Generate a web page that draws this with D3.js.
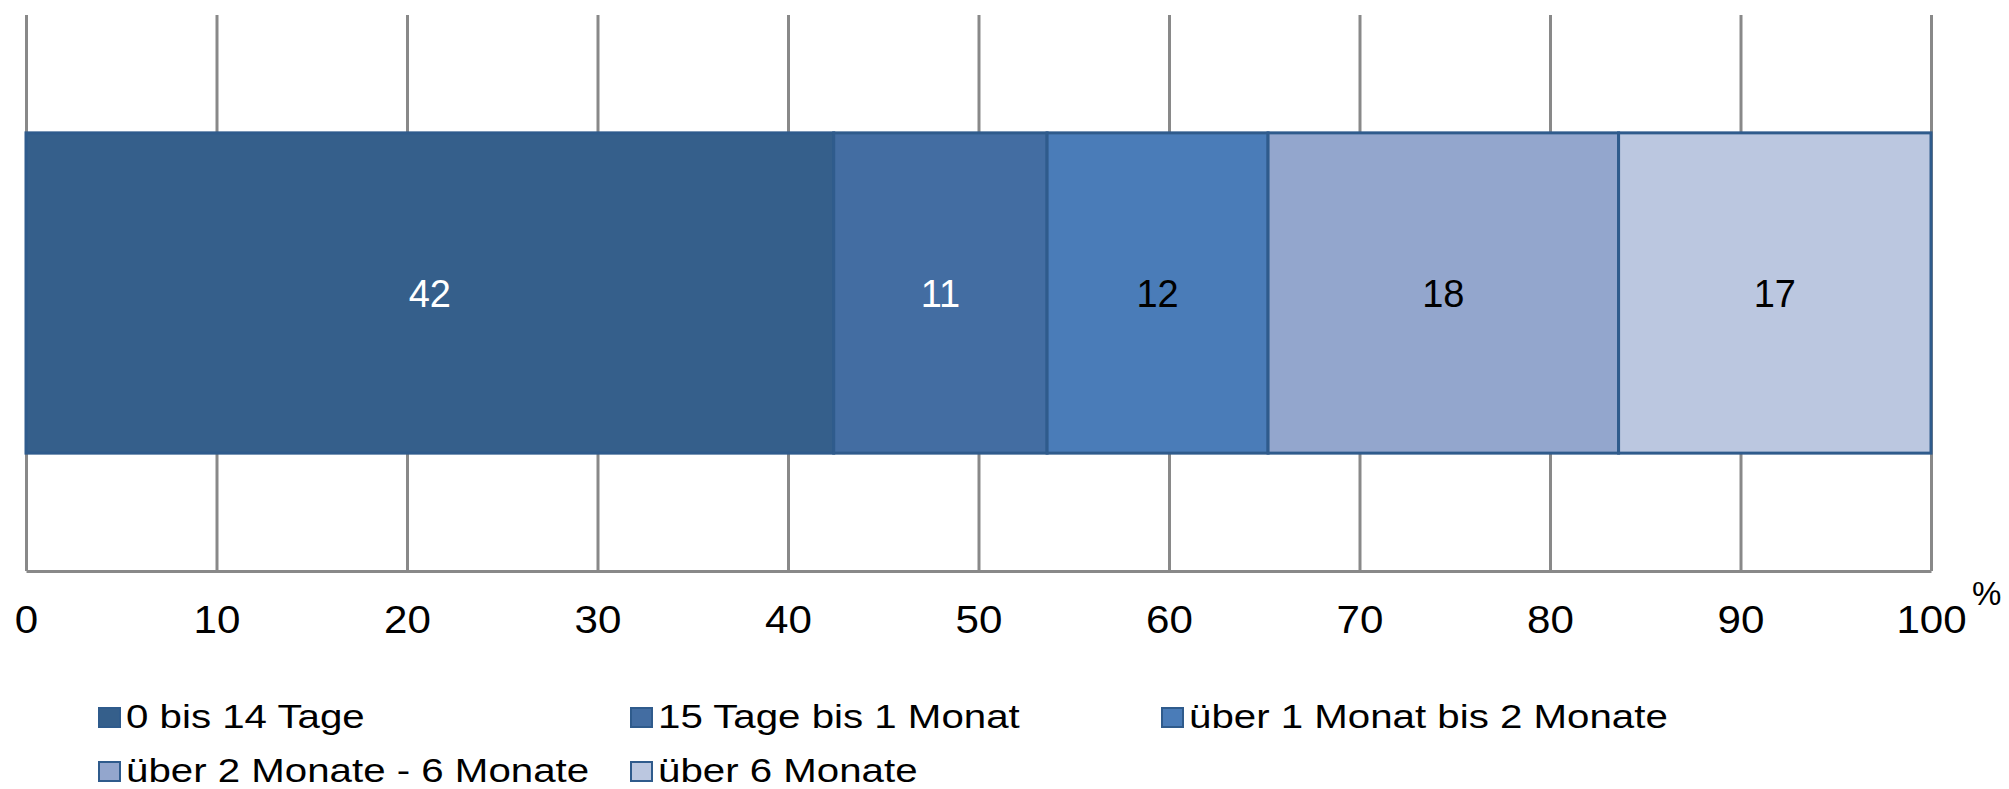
<!DOCTYPE html>
<html>
<head>
<meta charset="utf-8">
<script src="https://cdn.jsdelivr.net/npm/d3@7"></script>
<style>
  body { margin: 0; background: #fff; }
  text { font-family: Arial, "Liberation Sans", sans-serif; }
</style>
</head>
<body>
<svg id="chart"></svg>
<script>
// Anteile nach Dauer (in %)
const categories = ['0 bis 14 Tage', '15 Tage bis 1 Monat', 'über 1 Monat bis 2 Monate',
                    'über 2 Monate - 6 Monate', 'über 6 Monate'];
const values = [42.4, 11.2, 11.6, 18.4, 16.4];
const valueLabels = ['42', '11', '12', '18', '17'];
const colors = ['#355f8b', '#436da2', '#4a7cb8', '#93a6cd', '#bbc7e0'];
const labelColors = ['#ffffff', '#ffffff', '#000000', '#000000', '#000000'];
const xTicks = [0, 10, 20, 30, 40, 50, 60, 70, 80, 90, 100];
const unit = '%';

const chartWidth = 2009, chartHeight = 789;
const plotLeft = 26, plotRight = 1931, plotTop = 15, axisY = 571;

const svg = d3.select('#chart')
    .attr('width', chartWidth)
    .attr('height', chartHeight);

const xscale = d3.scaleLinear()
    .domain([0, 100])
    .range([plotLeft, plotRight]);

const yscale = d3.scaleBand()
    .domain(['row'])
    .range([plotTop, axisY])
    .padding(0.269);

// gridlines + bottom axis
const xaxis = d3.axisBottom(xscale)
    .tickValues(xTicks)
    .tickSizeInner(-(axisY - plotTop))
    .tickSizeOuter(0)
    .tickFormat(d3.format('d'));

const axisGroup = svg.append('g')
    .attr('transform', `translate(0, ${axisY})`)
    .call(xaxis);

axisGroup.select('.domain')
    .attr('stroke', '#898989')
    .attr('stroke-width', 3);

axisGroup.selectAll('.tick line')
    .attr('stroke', '#898989')
    .attr('stroke-width', 3);

axisGroup.selectAll('.tick text')
    .attr('y', 62)
    .attr('dy', 0)
    .attr('transform', 'scale(1.08, 1)')
    .attr('fill', '#000')
    .style('font-size', '39px')
    .style('font-family', 'Arial, "Liberation Sans", sans-serif');

svg.append('text')
    .attr('x', xscale(100) + 41)
    .attr('y', 605)
    .style('font-size', '33px')
    .attr('fill', '#000')
    .text(unit);

// stacked segments
let acc = 0;
const segs = values.map((v, i) => {
    const s = { i: i, x0: acc, x1: acc + v, label: valueLabels[i] };
    acc += v;
    return s;
});

const bar = svg.append('g');

bar.selectAll('rect')
    .data(segs)
    .join('rect')
    .attr('x', d => xscale(d.x0))
    .attr('y', yscale('row'))
    .attr('width', d => xscale(d.x1) - xscale(d.x0))
    .attr('height', yscale.bandwidth())
    .attr('fill', d => colors[d.i])
    .attr('stroke', '#2f5b8c')
    .attr('stroke-width', 3);

bar.selectAll('text')
    .data(segs)
    .join('text')
    .attr('x', d => (xscale(d.x0) + xscale(d.x1)) / 2)
    .attr('y', yscale('row') + yscale.bandwidth() / 2 + 14)
    .attr('text-anchor', 'middle')
    .attr('fill', d => labelColors[d.i])
    .style('font-size', '38px')
    .text(d => d.label);

// legend (text in the original is drawn a bit wide, hence the scaleX)
const legendX = [98, 630, 1161];
const legendY = [717, 771];
const legend = svg.append('g');

const items = legend.selectAll('g')
    .data(categories)
    .join('g')
    .attr('transform', (d, i) => `translate(${legendX[i % 3]}, ${legendY[Math.floor(i / 3)]})`);

items.append('rect')
    .attr('x', 1)
    .attr('y', -9)
    .attr('width', 21)
    .attr('height', 19)
    .attr('fill', (d, i) => colors[i])
    .attr('stroke', '#2f5b8c')
    .attr('stroke-width', 2);

items.append('text')
    .attr('transform', 'translate(28, 11) scale(1.22, 1)')
    .attr('fill', '#000')
    .style('font-size', '33px')
    .text(d => d);
</script>
</body>
</html>
